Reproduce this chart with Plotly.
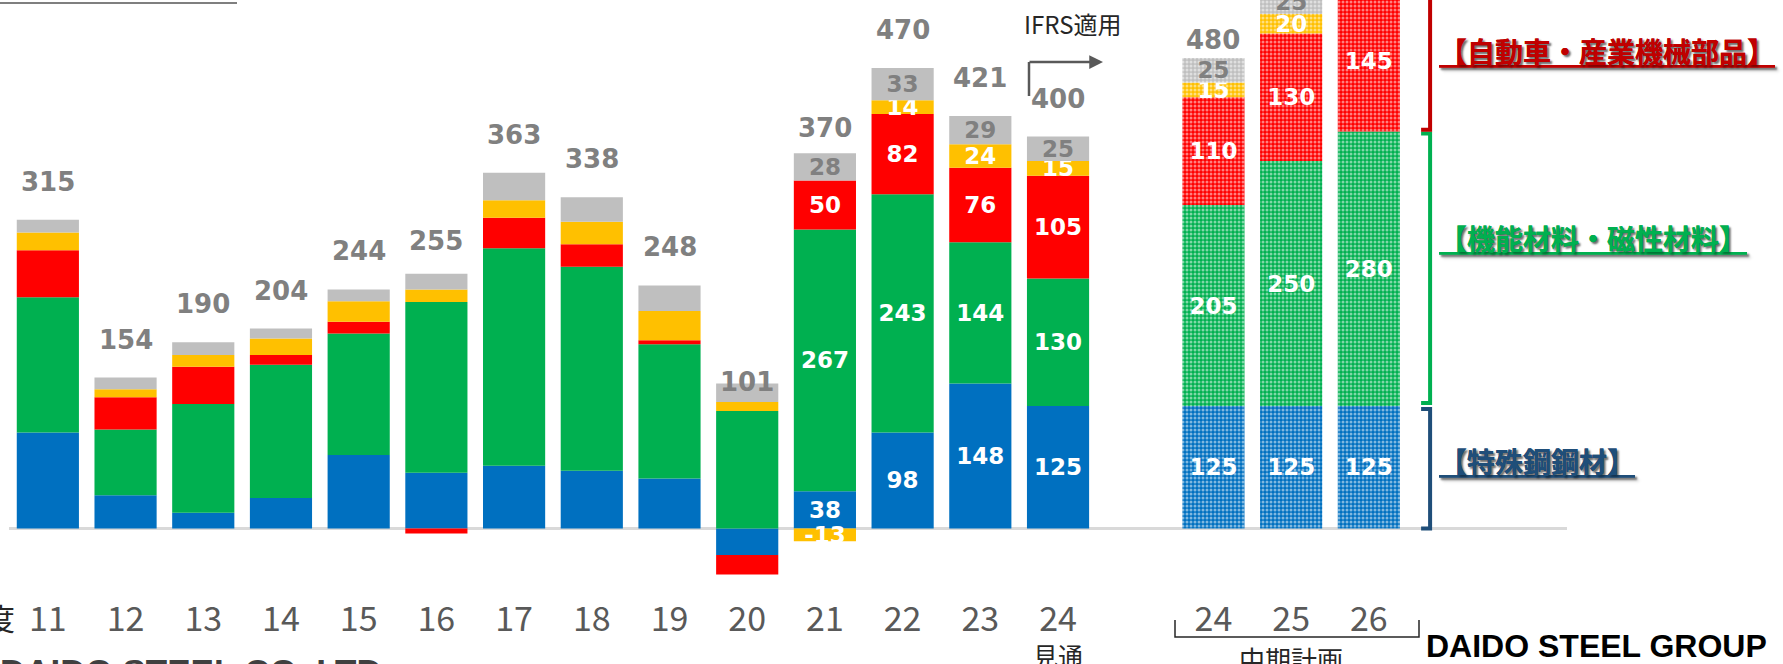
import plotly.graph_objects as go

# fiscal year slots: 14 actual years, one empty slot, 3 plan years
years = ["11", "12", "13", "14", "15", "16", "17", "18", "19", "20", "21", "22", "23", "24",
         "", "24", "25", "26"]

# segment values (億円)
steel = [98, 34, 16, 31, 75, 57, 64, 59, 51, -27, 38, 98, 148, 125, None, 125, 125, 125]
materials = [138, 67, 111, 136, 124, 174, 222, 208, 137, 120, 267, 243, 144, 130, None, 205, 250, 280]
parts = [48, 33, 38, 10, 12, -5, 31, 23, 4, -20, 50, 82, 76, 105, None, 110, 130, 145]
engineering = [18, 8, 12, 17, 21, 13, 18, 23, 30, 9, -13, 14, 24, 15, None, 15, 20, 25]
other = [13, 12, 13, 10, 12, 16, 28, 25, 26, 19, 28, 33, 29, 25, None, 25, 25, 25]

segment_names = ["特殊鋼鋼材", "機能材料・磁性材料", "自動車・産業機械部品", "エンジニアリング", "その他"]
segment_colors = ["#0070C0", "#00B050", "#FF0000", "#FFC000", "#BFBFBF"]
label_colors = ["white", "white", "white", "white", "#808080"]

first_labelled = 10   # segment values shown from FY21 on
plan_start = 15       # mid-term plan bars (patterned)

PLOT_L, PLOT_R, PLOT_B = 9, 1567, 596
W, H = 1783, 664
ZERO_PX = 528.5
PX_PER_UNIT = 0.98


def px_x(px):
    return (px - PLOT_L) / (PLOT_R - PLOT_L)


def px_y(py):
    return (PLOT_B - py) / PLOT_B


xs = list(range(len(years)))
fig = go.Figure()

for name, vals, color, lc in zip(segment_names, [steel, materials, parts, engineering, other],
                                 segment_colors, label_colors):
    text = ["" if (v is None or i < first_labelled) else str(v) for i, v in enumerate(vals)]
    shapes = ["." if i >= plan_start else "" for i in xs]
    fig.add_trace(go.Bar(
        x=xs, y=vals, name=name,
        marker=dict(color=color, line=dict(width=0),
                    pattern=dict(shape=shapes, fillmode="overlay", fgcolor="white",
                                 size=4, solidity=0.45)),
        text=text, textposition="inside", insidetextanchor="middle",
        constraintext="none",
        textfont=dict(family="DejaVu Sans", size=23, color=lc, weight="bold"),
        showlegend=False, hoverinfo="skip",
    ))

# totals above bars
for i in xs:
    parts_i = [s[i] for s in (steel, materials, parts, engineering, other)]
    if parts_i[0] is None:
        continue
    total = sum(parts_i)
    shift = 18 if i >= plan_start else 38
    if total < 150:
        shift = 48
    fig.add_annotation(x=i, y=total, text=f"<b>{total}</b>", showarrow=False,
                       yanchor="middle", yshift=shift,
                       font=dict(family="DejaVu Sans", size=26, color="#808080"))

# brackets on the right, following the FY26 plan bar segments
last = len(years) - 1
b1 = steel[last]
b2 = b1 + materials[last]
bx = (1430 - PLOT_L) / 77.7 - 0.5
hx = (1421 - PLOT_L) / 77.7 - 0.5
brackets = [
    (0, b1 - 3, "#1F4E79", "【特殊鋼鋼材】", 461),
    (b1 + 3, b2 - 2, "#00B050", "【機能材料・磁性材料】", 238),
    (b2 + 2, 560, "#C00000", "【自動車・産業機械部品】", 51),
]
for y0, y1, col, label, ly in brackets:
    fig.add_shape(type="path", xref="x", yref="y",
                  path=f"M {hx},{y0} L {bx},{y0} L {bx},{y1} L {hx},{y1}",
                  line=dict(color=col, width=4))
    fig.add_annotation(xref="paper", yref="paper", x=px_x(1437), y=px_y(ly),
                       xanchor="left", yanchor="middle", showarrow=False,
                       text=f"<b><u>{label}</u></b>",
                       font=dict(family="Noto Sans CJK JP", size=28, color=col,
                                 shadow="2px 2px 2px rgba(0,0,0,0.35)"))

# IFRS arrow
fig.add_shape(type="line", xref="paper", yref="paper",
              x0=px_x(1029), y0=px_y(96), x1=px_x(1029), y1=px_y(62),
              line=dict(color="#595959", width=2.5))
fig.add_annotation(xref="paper", yref="paper", x=px_x(1103), y=px_y(62),
                   ax=-75, ay=0, text="", showarrow=True, arrowhead=2,
                   arrowsize=1.1, arrowwidth=2.5, arrowcolor="#595959")
fig.add_annotation(xref="paper", yref="paper", x=px_x(1022), y=px_y(23),
                   xanchor="left", yanchor="middle", showarrow=False, text="IFRS適用",
                   font=dict(family="Noto Sans CJK JP", size=24, color="#262626"))

# sub labels under the axis
fig.add_annotation(x=13, xref="x", yref="paper", y=px_y(655), yanchor="middle",
                   showarrow=False, text="見通",
                   font=dict(family="Noto Sans CJK JP", size=25, color="#262626"))
fig.add_annotation(x=16, xref="x", yref="paper", y=px_y(658), yanchor="middle",
                   showarrow=False, text="中期計画",
                   font=dict(family="Noto Sans CJK JP", size=26, color="#262626"))
fig.add_shape(type="path", xref="paper", yref="paper",
              path=(f"M {px_x(1175)},{px_y(620)} L {px_x(1175)},{px_y(637)} "
                    f"L {px_x(1419)},{px_y(637)} L {px_x(1419)},{px_y(620)}"),
              line=dict(color="#262626", width=1.5))
fig.add_annotation(xref="paper", yref="paper", x=px_x(17), y=px_y(617),
                   xanchor="right", yanchor="middle", showarrow=False, text="年度",
                   font=dict(family="Noto Sans CJK JP", size=30, color="#262626"))

# company names
fig.add_annotation(xref="paper", yref="paper", x=px_x(1424), y=px_y(646),
                   xanchor="left", yanchor="middle", showarrow=False,
                   text="<b>DAIDO STEEL GROUP</b>",
                   font=dict(family="Liberation Sans", size=32, color="black"))
fig.add_annotation(xref="paper", yref="paper", x=px_x(-2), y=px_y(650),
                   xanchor="left", yanchor="top", showarrow=False,
                   text="<b>DAIDO STEEL CO.,LTD.</b>",
                   font=dict(family="Liberation Sans", size=35, color="#404040"))

# clipped heading underline top-left
fig.add_shape(type="line", xref="paper", yref="paper",
              x0=px_x(0), y0=px_y(3), x1=px_x(237), y1=px_y(3),
              line=dict(color="#7F7F7F", width=2))

y_top = ZERO_PX / PX_PER_UNIT
y_bottom = -(PLOT_B - ZERO_PX) / PX_PER_UNIT

fig.update_layout(
    width=W, height=H,
    margin=dict(l=PLOT_L, r=W - PLOT_R, t=0, b=H - PLOT_B),
    barmode="relative", bargap=0.2,
    plot_bgcolor="white", paper_bgcolor="white",
    xaxis=dict(range=[-0.5, len(years) + 1.55], tickmode="array",
               tickvals=[i for i in xs if years[i]], ticktext=[y for y in years if y],
               showgrid=False, showline=False, ticks="", zeroline=False,
               tickfont=dict(family="Liberation Sans Narrow, Noto Sans CJK JP", size=34,
                             color="#595959")),
    yaxis=dict(range=[y_bottom, y_top], visible=True, showgrid=False, showticklabels=False,
               zeroline=True, zerolinecolor="#D9D9D9", zerolinewidth=3, showline=False),
)

fig.write_html("out.html", config={"displayModeBar": False},
               post_script="document.body.style.margin='0';"
                           "document.body.style.overflow='hidden';")
